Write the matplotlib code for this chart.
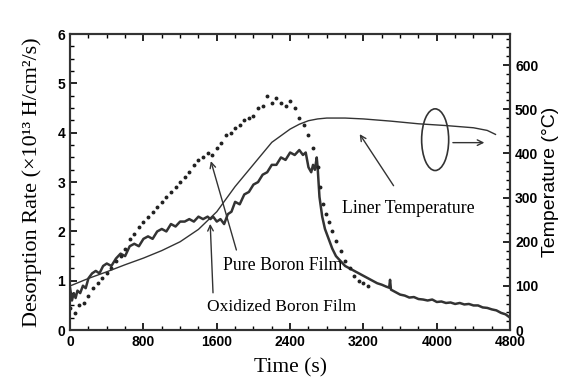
import matplotlib
matplotlib.use("Agg")
import matplotlib.pyplot as plt
from matplotlib.patches import Ellipse
from matplotlib.ticker import MultipleLocator

# Oxidized boron film (thick solid line), desorption rate
ox_time = [0, 20, 40, 60, 80, 110, 140, 170, 200, 240, 280, 320, 360, 400, 450, 500,
           550, 600, 650, 700, 750, 800, 850, 900, 950, 1000, 1050, 1100, 1150, 1200,
           1250, 1300, 1350, 1400, 1450, 1500, 1530, 1560, 1600, 1640, 1680, 1720, 1760,
           1800, 1850, 1900, 1950, 2000, 2050, 2100, 2150, 2200, 2250, 2300, 2350, 2400,
           2450, 2500, 2540, 2570, 2600, 2630, 2650, 2670, 2690, 2700, 2720, 2750, 2780,
           2820, 2860, 2900, 2950, 3000, 3050, 3100, 3150, 3200, 3250, 3300, 3350, 3400,
           3450, 3480, 3490, 3500, 3520, 3560, 3600, 3650, 3700, 3750, 3800, 3850, 3900,
           3950, 4000, 4050, 4100, 4150, 4200, 4250, 4300, 4350, 4400, 4450, 4500, 4550,
           4600, 4650, 4700, 4750, 4800]
ox_rate = [0.85, 0.6, 0.75, 0.65, 0.8, 0.75, 0.9, 0.85, 1.05, 1.15, 1.2, 1.15, 1.3, 1.35,
           1.3, 1.45, 1.55, 1.5, 1.7, 1.75, 1.7, 1.85, 1.9, 1.85, 2.0, 2.05, 2.0, 2.15,
           2.1, 2.2, 2.2, 2.25, 2.2, 2.3, 2.25, 2.3, 2.25, 2.3, 2.2, 2.25, 2.15, 2.35, 2.4,
           2.6, 2.55, 2.75, 2.8, 2.95, 3.0, 3.15, 3.2, 3.35, 3.35, 3.5, 3.45, 3.6, 3.55,
           3.65, 3.55, 3.6, 3.3, 3.2, 3.35, 3.25, 3.5, 3.3, 2.7, 2.3, 2.05, 1.85, 1.65,
           1.5, 1.4, 1.3, 1.25, 1.2, 1.15, 1.1, 1.05, 1.0, 0.95, 0.92, 0.88, 0.86, 1.02,
           0.82, 0.8, 0.76, 0.72, 0.7, 0.66, 0.67, 0.63, 0.62, 0.6, 0.62, 0.57, 0.58,
           0.55, 0.56, 0.53, 0.55, 0.52, 0.53, 0.5, 0.5, 0.46, 0.45, 0.42, 0.4, 0.35,
           0.32, 0.25]

# Pure boron film (dotted), desorption rate
pure_time = [0, 50, 100, 150, 200, 250, 300, 350, 400, 450, 500, 550, 600, 650, 700, 750,
             800, 850, 900, 950, 1000, 1050, 1100, 1150, 1200, 1250, 1300, 1350, 1400,
             1450, 1500, 1550, 1600, 1650, 1700, 1750, 1800, 1850, 1900, 1950, 2000, 2050,
             2100, 2150, 2200, 2250, 2300, 2350, 2400, 2450, 2500, 2550, 2600, 2650, 2700,
             2730, 2760, 2790, 2820, 2860, 2900, 2950, 3000, 3050, 3100, 3150, 3200, 3250]
pure_rate = [0.45, 0.35, 0.5, 0.55, 0.7, 0.85, 0.95, 1.05, 1.15, 1.25, 1.4, 1.5, 1.65,
             1.85, 1.95, 2.1, 2.2, 2.3, 2.4, 2.5, 2.6, 2.7, 2.8, 2.9, 3.0, 3.1, 3.2, 3.35,
             3.45, 3.5, 3.6, 3.55, 3.7, 3.8, 3.95, 4.0, 4.1, 4.15, 4.25, 4.3, 4.35, 4.5,
             4.55, 4.75, 4.6, 4.7, 4.6, 4.55, 4.65, 4.5, 4.3, 4.15, 3.95, 3.7, 3.3, 2.9,
             2.55, 2.35, 2.2, 2.0, 1.8, 1.6, 1.4, 1.25, 1.1, 1.0, 0.95, 0.9]

# Liner temperature (thin solid line), degC
temp_time = [0, 200, 400, 600, 800, 1000, 1200, 1400, 1600, 1800, 2000, 2200, 2400, 2500,
             2600, 2700, 2800, 3000, 3200, 3500, 3800, 4100, 4400, 4550, 4640]
temp_val = [100, 117, 132, 148, 163, 180, 200, 228, 268, 325, 375, 425, 455, 466, 474,
            478, 480, 480, 478, 473, 467, 463, 458, 452, 443]

serif = "Liberation Serif"
sans = "Liberation Sans"

fig = plt.figure(figsize=(5.7, 3.79), dpi=100)
ax = fig.add_axes([0.123, 0.129, 0.772, 0.781])
ax2 = ax.twinx()

ax.plot(ox_time, ox_rate, color="#333333", lw=1.8)
ax.plot(pure_time, pure_rate, linestyle="none", marker="o", ms=1.8, color="#222222")
ax2.plot(temp_time, temp_val, color="#333333", lw=1.0)

ax.set_xlim(0, 4800)
ax.set_ylim(0, 6)
ax2.set_ylim(0, 670)

ax.xaxis.set_major_locator(MultipleLocator(800))
ax.xaxis.set_minor_locator(MultipleLocator(200))
ax.yaxis.set_major_locator(MultipleLocator(1))
ax.yaxis.set_minor_locator(MultipleLocator(0.25))
ax2.yaxis.set_major_locator(MultipleLocator(100))
ax2.yaxis.set_minor_locator(MultipleLocator(20))

ax.tick_params(which="both", direction="in", top=True, labelsize=10)
ax.tick_params(which="major", length=5, width=1.2)
ax.tick_params(which="minor", length=3, width=1.0)
ax2.tick_params(which="both", direction="in", labelsize=10)
ax2.tick_params(which="major", length=5, width=1.2)
ax2.tick_params(which="minor", length=3, width=1.0)
for lab in ax.get_xticklabels() + ax.get_yticklabels() + ax2.get_yticklabels():
    lab.set_fontfamily(sans)
    lab.set_fontweight("bold")

for a in (ax, ax2):
    for sp in a.spines.values():
        sp.set_linewidth(1.5)
        sp.set_color("#333333")

ax.set_xlabel("Time (s)", fontfamily=serif, fontsize=15.5, labelpad=7)
ax.set_ylabel("Desorption Rate (×10¹³ H/cm²/s)", fontfamily=serif, fontsize=16, labelpad=11)
ax2.set_ylabel("Temperature (°C)", fontfamily=sans, fontsize=14, labelpad=3)

# annotations
arrow = dict(arrowstyle="->", color="#333333", lw=1.0, mutation_scale=10)
ax.text(1669, 1.31, "Pure Boron Film", fontfamily=serif, fontsize=12.8, va="center", ha="left")
ax.annotate("", xy=(1527, 3.48), xytext=(1822, 1.57), arrowprops=arrow)
ax.text(1495, 0.46, "Oxidized Boron Film", fontfamily=serif, fontsize=12.5, va="center", ha="left")
ax.annotate("", xy=(1527, 2.21), xytext=(1560, 0.70), arrowprops=arrow)
ax.text(2967, 2.47, "Liner Temperature", fontfamily=serif, fontsize=12.8, va="center", ha="left")
ax.annotate("", xy=(3142, 4.02), xytext=(3545, 2.88), arrowprops=arrow)

ax.add_patch(Ellipse((3982, 3.86), 295, 1.25, fill=False, lw=1.2, edgecolor="#333333"))
ax.annotate("", xy=(4549, 3.8), xytext=(4145, 3.8), arrowprops=arrow)

fig.savefig("out.png", dpi=100)
